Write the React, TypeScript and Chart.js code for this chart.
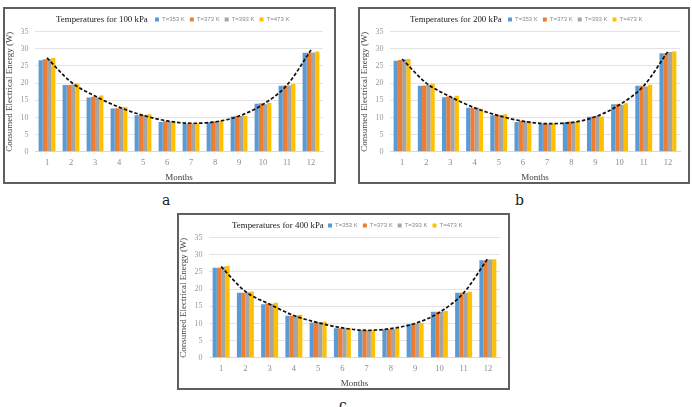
import React, { useEffect, useRef } from "react";
import { Chart, registerables } from "chart.js";

Chart.register(...registerables);

const months = ["1", "2", "3", "4", "5", "6", "7", "8", "9", "10", "11", "12"];
const seriesLabels = ["T=353 K", "T=373 K", "T=393 K", "T=473 K"];
const seriesColors = ["#5B9BD5", "#ED7D31", "#A5A5A5", "#FFC000"];

// 100 kPa
const a353 = [26.6, 19.4, 15.8, 12.6, 10.6, 8.7, 8.1, 8.6, 10.3, 14.0, 19.2, 28.8];
const a373 = [26.9, 19.4, 16.0, 12.7, 10.8, 8.9, 8.3, 8.8, 10.5, 14.1, 19.3, 28.8];
const a393 = [27.0, 19.6, 15.8, 12.8, 10.7, 8.8, 8.2, 8.8, 10.4, 13.8, 19.3, 28.9];
const a473 = [27.3, 19.9, 16.4, 13.0, 10.9, 8.9, 8.3, 9.0, 10.4, 14.2, 19.7, 29.2];
const aTrend = [27.3, 20.3, 16.2, 13.0, 10.6, 9.0, 8.3, 8.7, 10.4, 13.8, 19.4, 29.6];

// 200 kPa
const b353 = [26.5, 19.2, 15.9, 12.8, 10.6, 8.7, 8.2, 8.6, 10.2, 13.8, 19.2, 28.7];
const b373 = [26.7, 19.3, 16.1, 12.8, 10.8, 9.0, 8.2, 8.8, 10.3, 13.9, 19.2, 28.7];
const b393 = [26.9, 19.5, 15.8, 12.9, 10.7, 8.9, 8.2, 8.7, 10.5, 13.7, 19.0, 29.0];
const b473 = [27.0, 19.8, 16.3, 12.5, 10.9, 8.9, 8.2, 8.8, 10.3, 14.1, 19.5, 29.2];
const bTrend = [27.0, 20.0, 16.0, 12.8, 10.5, 8.9, 8.2, 8.5, 10.2, 13.7, 19.2, 29.2];

// 400 kPa
const c353 = [26.2, 18.9, 15.6, 12.2, 10.3, 8.6, 8.0, 8.2, 9.8, 13.4, 18.9, 28.4];
const c373 = [26.2, 18.9, 15.8, 12.2, 10.5, 8.6, 8.0, 8.3, 9.9, 13.4, 18.9, 28.4];
const c393 = [26.5, 19.1, 15.7, 12.3, 10.4, 8.6, 8.0, 8.4, 10.0, 13.4, 18.9, 28.6];
const c473 = [26.7, 19.3, 16.0, 12.5, 10.5, 8.6, 8.0, 8.6, 10.1, 13.6, 19.2, 28.7];
const cTrend = [26.5, 19.3, 15.6, 12.3, 10.2, 8.7, 8.0, 8.5, 10.0, 13.2, 18.9, 28.9];

const yTicks = [0, 5, 10, 15, 20, 25, 30, 35];

const SERIF = "'Liberation Serif', 'Times New Roman', serif";
const SANS = "'Liberation Sans', Arial, sans-serif";

// Places the chart title on the same row as the legend (as in the Excel figure)
const inlineTitle = {
  id: "inlineTitle",
  beforeLayout(chart: any, _args: any, opts: any) {
    const lg = chart.legend;
    if (lg && !lg.$patched) {
      const orig = lg.fit;
      lg.fit = function () {
        orig.call(this);
        this.height = opts.legendHeight;
      };
      lg.$patched = true;
    }
  },
  afterLayout(chart: any, _args: any, opts: any) {
    const legend = chart.legend;
    if (!legend) return;
    const pad = legend.options.labels.padding;
    const shift = opts.legendX - pad - legend.left;
    legend.left += shift;
    legend.right += shift;
  },
  afterDraw(chart: any, _args: any, opts: any) {
    const legend = chart.legend;
    if (!legend) return;
    const hb = legend.legendHitBoxes && legend.legendHitBoxes[0];
    const y = hb ? hb.top + hb.height / 2 : legend.top + 10;
    const ctx = chart.ctx;
    ctx.save();
    ctx.font = opts.font;
    ctx.fillStyle = opts.color;
    ctx.textBaseline = "middle";
    ctx.textAlign = "left";
    ctx.fillText(opts.text, opts.x, y + (opts.dy || 0));
    ctx.restore();
  },
};

type PanelProps = {
  title: string;
  s1: number[];
  s2: number[];
  s3: number[];
  s4: number[];
  trend: number[];
  width: number;
  height: number;
  titleX: number;
  legendX: number;
  rightPad: number;
};

function Panel({ title, s1, s2, s3, s4, trend, width, height, titleX, legendX, rightPad }: PanelProps) {
  const ref = useRef<HTMLCanvasElement>(null);
  useEffect(() => {
    if (!ref.current) return;
    const series = [s1, s2, s3, s4];
    const chart = new Chart(ref.current, {
      type: "bar",
      data: {
        labels: months,
        datasets: [
          {
            type: "line",
            label: "trend",
            data: trend,
            borderColor: "#111111",
            borderWidth: 1.7,
            borderDash: [3.5, 2],
            pointRadius: 0,
            fill: false,
            cubicInterpolationMode: "monotone",
            order: 0,
          } as any,
          ...series.map((d, i) => ({
            type: "bar" as const,
            label: seriesLabels[i],
            data: d,
            backgroundColor: seriesColors[i],
            borderWidth: 0,
            barPercentage: 1,
            categoryPercentage: 0.7,
            order: 1,
          })),
        ],
      },
      options: {
        responsive: false,
        animation: false,
        layout: { padding: { top: 2.5, left: 0, right: rightPad, bottom: 0 } },
        plugins: {
          legend: {
            position: "top",
            align: "start",
            labels: {
              boxWidth: 4,
              boxHeight: 4,
              padding: 5,
              color: "#8a8a8a",
              font: { family: SANS, size: 6 },
              filter: (item: any) => item.text !== "trend",
            },
          },
          tooltip: { enabled: false },
          inlineTitle: {
            text: title,
            font: `8.9px ${SERIF}`,
            color: "#1a1a1a",
            x: titleX,
            legendX,
            legendHeight: 20,
          },
        } as any,
        scales: {
          x: {
            grid: { display: false, drawTicks: false },
            border: { color: "#d9d9d9" },
            ticks: { color: "#8c8c8c", font: { family: SERIF, size: 8.5 }, padding: 5.5 },
            title: {
              display: true,
              text: "Months",
              color: "#404040",
              font: { family: SERIF, size: 9, lineHeight: 1 },
              padding: { top: 0, bottom: 0 },
            },
          },
          y: {
            min: 0,
            max: 35,
            afterBuildTicks: (axis: any) => {
              axis.ticks = yTicks.map((v) => ({ value: v }));
            },
            grid: { color: "#e3e3e3", drawTicks: false },
            border: { display: false },
            ticks: { color: "#9a9a9a", font: { family: SERIF, size: 8 }, padding: 6.5 },
            title: {
              display: true,
              text: "Consumed Electrical Energy (W)",
              color: "#404040",
              font: { family: SERIF, size: 9, lineHeight: 1 },
              padding: { top: 0, bottom: 0 },
            },
          },
        },
      },
      plugins: [inlineTitle as any],
    });
    return () => chart.destroy();
  }, []);
  return <canvas ref={ref} width={width} height={height} style={{ display: "block" }} />;
}

const boxStyle = (left: number, top: number, w: number, h: number): React.CSSProperties => ({
  position: "absolute",
  left,
  top,
  width: w,
  height: h,
  border: "2px solid #5f5f5f",
  boxSizing: "border-box",
  background: "#fff",
});

const letterStyle = (left: number, top: number): React.CSSProperties => ({
  position: "absolute",
  left,
  top,
  fontFamily: "'DejaVu Serif', 'Liberation Serif', serif",
  fontSize: 14,
  color: "#222",
  lineHeight: "16px",
});

export default function App() {
  return (
    <div style={{ position: "absolute", left: 0, top: 0, width: 692, height: 407, background: "#fff", overflow: "hidden" }}>
      <div style={boxStyle(3, 7, 333, 177)}>
        <Panel title="Temperatures for 100 kPa" s1={a353} s2={a373} s3={a393} s4={a473} trend={aTrend} width={329} height={173} titleX={51} legendX={150} rightPad={11} />
      </div>
      <div style={boxStyle(358, 7, 332, 177)}>
        <Panel title="Temperatures for 200 kPa" s1={b353} s2={b373} s3={b393} s4={b473} trend={bTrend} width={328} height={173} titleX={50} legendX={148} rightPad={8} />
      </div>
      <div style={boxStyle(177, 213, 333, 177)}>
        <Panel title="Temperatures for 400 kPa" s1={c353} s2={c373} s3={c393} s4={c473} trend={cTrend} width={329} height={173} titleX={53} legendX={149} rightPad={8} />
      </div>
      <div style={letterStyle(162, 192)}>a</div>
      <div style={letterStyle(515, 192)}>b</div>
      <div style={letterStyle(339, 397)}>c</div>
    </div>
  );
}
